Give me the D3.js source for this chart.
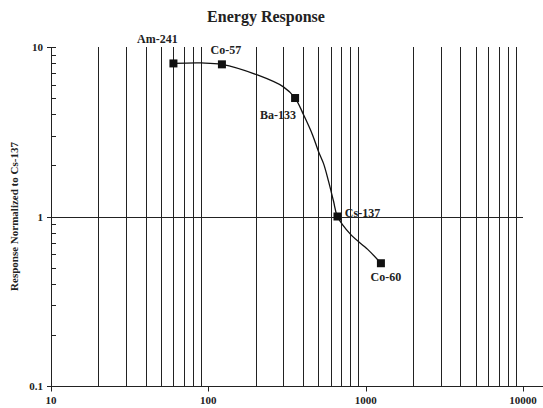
<!DOCTYPE html>
<html>
<head>
<meta charset="utf-8">
<script src="https://cdn.jsdelivr.net/npm/d3@7"></script>
<style>
  body { margin: 0; background: #fff; }
  text { font-family: "Liberation Serif", "DejaVu Serif", serif; font-weight: bold; fill: #222; }
</style>
</head>
<body>
<div id="chart"></div>
<script>
// sources (keV) and normalized response
const sources = ['Am-241', 'Co-57', 'Ba-133', 'Cs-137', 'Co-60'];
const energies = [60, 122, 356, 662, 1250];
const responses = [8.0, 7.9, 5.0, 1.0, 0.53];

// fitted response curve
const curveEnergy = [60, 90, 122, 205, 300, 356, 403, 459, 502, 540, 581, 625, 662, 802, 1030, 1250];
const curveResponse = [8.0, 8.05, 7.9, 6.84, 5.82, 5.0, 3.98, 3.04, 2.41, 2.05, 1.61, 1.23, 1.0, 0.784, 0.64, 0.53];

const xTicks = [10, 100, 1000, 10000];
const yTicks = [0.1, 1, 10];

const width = 543, height = 408;
const margin = { top: 47, right: 20, bottom: 22, left: 51 };

const svg = d3.select('#chart').append('svg')
    .attr('width', width)
    .attr('height', height);

const x = d3.scaleLog().domain([10, 10000]).range([margin.left, 523]);
const y = d3.scaleLog().domain([0.1, 10]).range([386, margin.top]);

// vertical grid at minor decades
const minorX = x.ticks().filter(d => xTicks.indexOf(d) < 0);
svg.append('g')
    .selectAll('line')
    .data(minorX)
    .join('line')
    .attr('x1', d => Math.round(x(d)) + 0.5)
    .attr('x2', d => Math.round(x(d)) + 0.5)
    .attr('y1', y(10))
    .attr('y2', y(0.1))
    .attr('stroke', '#222')
    .attr('stroke-width', 1);

// reference line at 1
svg.append('line')
    .attr('x1', x(10)).attr('x2', x(10000))
    .attr('y1', Math.round(y(1)) + 0.5).attr('y2', Math.round(y(1)) + 0.5)
    .attr('stroke', '#222');

// x axis
const yBase = Math.round(y(0.1)) + 0.5;
svg.append('line')
    .attr('x1', x(10) - 4).attr('x2', width)
    .attr('y1', yBase).attr('y2', yBase)
    .attr('stroke', '#222');
svg.append('g')
    .selectAll('line')
    .data(xTicks)
    .join('line')
    .attr('x1', d => Math.round(x(d)) + 0.5)
    .attr('x2', d => Math.round(x(d)) + 0.5)
    .attr('y1', (d, i) => i === 0 ? yBase - 5 : yBase)
    .attr('y2', yBase + 5)
    .attr('stroke', '#222');
svg.append('g')
    .selectAll('text')
    .data(xTicks)
    .join('text')
    .attr('x', d => x(d))
    .attr('y', yBase + 17)
    .attr('text-anchor', 'middle')
    .attr('font-size', 11)
    .text(d => d);

// y axis
svg.append('line')
    .attr('x1', margin.left + 0.5).attr('x2', margin.left + 0.5)
    .attr('y1', y(10)).attr('y2', y(0.1))
    .attr('stroke', '#222');
svg.append('g')
    .selectAll('line')
    .data(y.ticks())
    .join('line')
    .attr('x1', d => yTicks.indexOf(d) >= 0 ? margin.left - 4 : margin.left)
    .attr('x2', margin.left + 5)
    .attr('y1', d => Math.round(y(d)) + 0.5)
    .attr('y2', d => Math.round(y(d)) + 0.5)
    .attr('stroke', '#222');
svg.append('g')
    .selectAll('text')
    .data(yTicks)
    .join('text')
    .attr('x', margin.left - 8)
    .attr('y', d => y(d) + 4)
    .attr('text-anchor', 'end')
    .attr('font-size', 11)
    .text(d => d);

// fitted curve
const curvePts = curveEnergy.map((e, i) => [x(e), y(curveResponse[i])]);
svg.append('path')
    .datum(curvePts)
    .attr('fill', 'none')
    .attr('stroke', '#111')
    .attr('stroke-width', 1.3)
    .attr('d', d3.line().curve(d3.curveCatmullRom.alpha(0.5)));

// markers
const pts = sources.map((s, i) => ({ name: s, e: energies[i], r: responses[i] }));
svg.append('g')
    .selectAll('rect')
    .data(pts)
    .join('rect')
    .attr('x', d => x(d.e) - 4)
    .attr('y', d => y(d.r) - 4)
    .attr('width', 8)
    .attr('height', 8)
    .attr('fill', '#111');

// point labels
const labelDx = [-16, 4, -17, 25, 5];
const labelDy = [-20, -10, 21, 0, 18];
svg.append('g')
    .selectAll('text')
    .data(pts)
    .join('text')
    .attr('x', (d, i) => x(d.e) + labelDx[i])
    .attr('y', (d, i) => y(d.r) + labelDy[i])
    .attr('text-anchor', 'middle')
    .attr('font-size', 12)
    .text(d => d.name);

// title
svg.append('text')
    .attr('x', 266)
    .attr('y', 22)
    .attr('text-anchor', 'middle')
    .attr('font-size', 16)
    .text('Energy Response');

// y label
svg.append('text')
    .attr('transform', `translate(18,${(y(10) + y(0.1)) / 2}) rotate(-90)`)
    .attr('text-anchor', 'middle')
    .attr('font-size', 11)
    .text('Response Normalized to Cs-137');
</script>
</body>
</html>
